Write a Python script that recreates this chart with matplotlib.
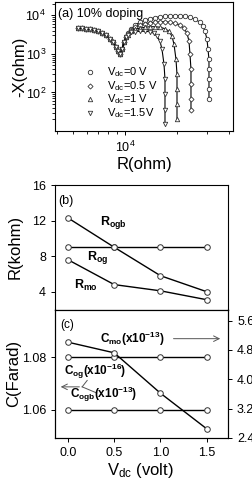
import numpy as np
import matplotlib
matplotlib.use("Agg")
import matplotlib.pyplot as plt
from matplotlib.ticker import NullFormatter, FixedLocator

plt.rcParams['font.family'] = ['Liberation Sans', 'DejaVu Sans']
plt.rcParams['mathtext.fontset'] = 'custom'
plt.rcParams['mathtext.rm'] = 'Liberation Sans'
plt.rcParams['mathtext.it'] = 'Liberation Sans:italic'
plt.rcParams['mathtext.bf'] = 'Liberation Sans:bold'

# ---- panel (a): -X vs R, shared high-frequency arm ----
arm_R = [5330, 5620, 5930, 6260, 6600, 6970, 7350, 7750, 8180, 8520, 8870, 9110, 9350, 9610, 9870, 10130]
arm_X = [4600, 4600, 4470, 4330, 4080, 3840, 3410, 3020, 2380, 1990, 1480, 1160, 970, 1310, 1990, 2680]

r_0v = [10410, 10840, 11430, 12220, 13070, 13970, 14940, 15980, 17080, 18270, 19530, 20880,
        22330, 23870, 25530, 27290, 28410, 29180, 29970, 30380, 30780, 30780, 30780, 30780, 30780]
x_0v = [3410, 4330, 5500, 6580, 7420, 8110, 8610, 9140, 9420, 9700, 9700, 9700,
        9420, 8870, 7870, 6580, 5180, 3840, 2380, 1310, 720, 395, 218, 120, 66]

r_05v = [10410, 10840, 11430, 12220, 13070, 13970, 14940, 15980, 17080, 18270, 19530, 20880,
         22030, 22940, 23560, 23870, 24190, 24190, 24190, 24190]
x_05v = [3210, 4080, 4880, 5500, 6010, 6380, 6580, 6780, 6780, 6580, 6200, 5500,
         4600, 3410, 2110, 970, 395, 161, 66, 36]

r_1v = [10410, 10840, 11430, 12220, 13070, 13970, 14940, 15980, 17080, 18030, 18760, 19270,
        19790, 20060, 20060, 20060, 20060]
x_1v = [3020, 3840, 4330, 4600, 4880, 5030, 5030, 4880, 4470, 3840, 2850, 1770,
        720, 294, 120, 49, 20]

r_15v = [10410, 10840, 11430, 12220, 13070, 13970, 14740, 15350, 15980, 16410, 16860, 17080,
         17080, 17080, 17080]
x_15v = [3020, 3620, 3730, 3840, 3840, 3730, 3410, 2850, 2110, 1310, 534, 218, 89, 36, 15]

# ---- panels (b), (c) ----
vdc = [0.0, 0.5, 1.0, 1.5]
r_ogb = [12.3, 9.0, 5.8, 4.0]
r_og = [9.0, 9.0, 9.0, 9.0]
r_mo = [7.6, 4.8, 4.1, 3.1]
c_og = [1.08, 1.08, 1.08, 1.08]
c_ogb = [1.06, 1.06, 1.06, 1.06]
c_mo = [5.01, 4.72, 3.62, 2.65]

fig = plt.figure(figsize=(2.53, 4.78), dpi=100)
W, H = 253.0, 478.0

def box(l, t, r, b):
    return [l / W, 1 - b / H, (r - l) / W, (b - t) / H]

axa = fig.add_axes(box(55, 2, 233, 131))
axb = fig.add_axes(box(55, 185, 228, 309.5))
axc = fig.add_axes(box(55, 309.5, 228, 438))

for ax in (axa, axb, axc):
    ax.tick_params(labelsize=9, length=3, width=0.7)
    for s in ax.spines.values():
        s.set_linewidth(0.8)

# panel (a)
curves = [(r_0v, x_0v, 'o', r'V$_{\mathrm{dc}}$=0 V'),
          (r_05v, x_05v, 'D', r'V$_{\mathrm{dc}}$=0.5 V'),
          (r_1v, x_1v, '^', r'V$_{\mathrm{dc}}$=1 V'),
          (r_15v, x_15v, 'v', r'V$_{\mathrm{dc}}$=1.5V')]
leg_y = [0.457, 0.349, 0.248, 0.140]
for (rr, xx, m, lab), ly in zip(curves, leg_y):
    R = arm_R + rr
    X = arm_X + xx
    axa.plot(R, X, '-', color='black', lw=0.8)
    ms = 2.6 if m == 'D' else 3.2
    axa.plot(R, X, m, ls='none', mfc='white', mec='#333333', ms=ms, mew=0.6)
    axa.plot([0.197], [ly], m, ls='none', mfc='white', mec='#333333', ms=ms, mew=0.6,
             transform=axa.transAxes)
    axa.text(0.292, ly, lab, transform=axa.transAxes, fontsize=8, va='center')

axa.set_xscale('log')
axa.set_yscale('log')
axa.set_xlim(3917, 42460)
axa.set_ylim(10, 2.2e4)
axa.xaxis.set_major_locator(FixedLocator([1e4]))
axa.xaxis.set_minor_formatter(NullFormatter())
axa.yaxis.set_minor_formatter(NullFormatter())
axa.yaxis.set_major_locator(FixedLocator([1e2, 1e3, 1e4]))
axa.text(0.017, 0.905, '(a) 10% doping', transform=axa.transAxes, fontsize=9, va='center')

# panel (b)
for y in (r_ogb, r_og, r_mo):
    axb.plot(vdc, y, '-', color='black', lw=1.0, zorder=2)
    axb.plot(vdc, y, 'o', ls='none', mfc='white', mec='#333333', ms=4, mew=0.7, zorder=3)
axb.set_xlim(-0.14, 1.73)
axb.set_ylim(2, 16)
axb.set_yticks([4, 8, 12, 16])
axb.tick_params(axis='x', bottom=False, labelbottom=False)
axb.text(0.02, 0.87, '(b)', transform=axb.transAxes, fontsize=9, va='center')
axb.text(0.26, 0.70, r'$\mathbf{R_{ogb}}$', transform=axb.transAxes, fontsize=9, va='center')
axb.text(0.185, 0.42, r'$\mathbf{R_{og}}$', transform=axb.transAxes, fontsize=9, va='center')
axb.text(0.11, 0.197, r'$\mathbf{R_{mo}}$', transform=axb.transAxes, fontsize=9, va='center')

# panel (c)
axr = axc.twinx()
for y in (c_og, c_ogb):
    axc.plot(vdc, y, '-', color='black', lw=1.0, zorder=2)
    axc.plot(vdc, y, 'o', ls='none', mfc='white', mec='#333333', ms=4, mew=0.7, zorder=3)
axr.plot(vdc, c_mo, '-', color='black', lw=1.0, zorder=2)
axr.plot(vdc, c_mo, 'o', ls='none', mfc='white', mec='#333333', ms=4, mew=0.7, zorder=3)
axc.set_xlim(-0.14, 1.73)
axc.set_ylim(1.0494, 1.098)
axc.set_yticks([1.06, 1.08])
axc.set_xticks([0.0, 0.5, 1.0, 1.5])
axc.set_xticklabels(['0.0', '0.5', '1.0', '1.5'])
axr.set_yticks([2.4, 3.2, 4.0, 4.8, 5.6])
axr.set_ylim(2.4, 5.9)
axr.tick_params(labelsize=9, length=3, width=0.7)
axr.spines['right'].set_linewidth(0.8)

axc.text(0.03, 0.883, '(c)', transform=axc.transAxes, fontsize=8.5, va='center')
axc.text(0.262, 0.773, r'$\mathbf{C_{mo}(x10^{-13})}$', transform=axc.transAxes, fontsize=8.5, va='center')
axc.annotate('', xy=(0.971, 0.773), xytext=(0.669, 0.773), xycoords='axes fraction',
             arrowprops=dict(arrowstyle='->', color='#555555', lw=0.7))
axc.text(0.052, 0.516, r'$\mathbf{C_{og}(x10^{-16})}$', transform=axc.transAxes, fontsize=8.5, va='center')
axc.text(0.087, 0.336, r'$\mathbf{C_{ogb}(x10^{-13})}$', transform=axc.transAxes, fontsize=8.5, va='center')
axc.annotate('', xy=(0.017, 0.398), xytext=(0.157, 0.398), xycoords='axes fraction',
             arrowprops=dict(arrowstyle='->', color='#555555', lw=0.7))
axc.plot([0.157, 0.186], [0.398, 0.448], color='#555555', lw=0.7, transform=axc.transAxes)
axc.plot([0.157, 0.242], [0.398, 0.35], color='#555555', lw=0.7, transform=axc.transAxes)

# axis labels
fig.text(20 / W, 1 - 67 / H, '-X(ohm)', rotation=90, ha='center', va='center', fontsize=12)
fig.text(145 / W, 1 - 164 / H, 'R(ohm)', ha='center', va='center', fontsize=12)
fig.text(15 / W, 1 - 247 / H, 'R(kohm)', rotation=90, ha='center', va='center', fontsize=12)
fig.text(14 / W, 1 - 373 / H, 'C(Farad)', rotation=90, ha='center', va='center', fontsize=12)
fig.text(140 / W, 1 - 470 / H, r'V$_{\mathrm{dc}}$ (volt)', ha='center', va='center', fontsize=12)

fig.savefig('out.png', dpi=100)
